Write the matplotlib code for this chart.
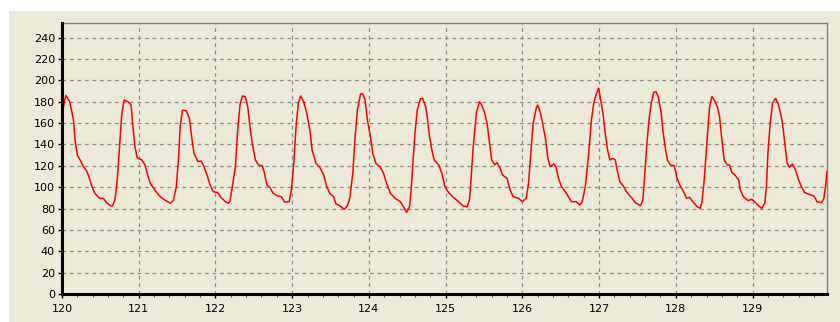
import numpy as np
import matplotlib
matplotlib.use("Agg")
import matplotlib.pyplot as plt
from matplotlib.patches import Rectangle
from matplotlib.ticker import MultipleLocator

# pressure trace, time in s, pressure in mmHg
t = [120.00, 120.05, 120.10, 120.15, 120.17, 120.20, 120.24, 120.28, 120.32, 120.36,
     120.39, 120.43, 120.49, 120.54, 120.58, 120.63, 120.66, 120.69, 120.72, 120.75,
     120.78, 120.81, 120.86, 120.90, 120.92, 120.95, 120.98, 121.04, 121.08, 121.11,
     121.15, 121.21, 121.28, 121.34, 121.41, 121.45, 121.49, 121.52, 121.54, 121.57,
     121.62, 121.66, 121.69, 121.72, 121.77, 121.81, 121.84, 121.89, 121.93, 121.97,
     122.03, 122.07, 122.13, 122.17, 122.19, 122.22, 122.26, 122.29, 122.32, 122.35,
     122.39, 122.42, 122.45, 122.48, 122.52, 122.56, 122.61, 122.64, 122.67, 122.71,
     122.75, 122.81, 122.86, 122.90, 122.96, 122.99, 123.02, 123.05, 123.08, 123.11,
     123.15, 123.19, 123.23, 123.26, 123.31, 123.36, 123.41, 123.45, 123.49, 123.54,
     123.57, 123.62, 123.68, 123.72, 123.75, 123.79, 123.82, 123.85, 123.89, 123.92,
     123.95, 123.98, 124.02, 124.05, 124.09, 124.15, 124.19, 124.23, 124.28, 124.34,
     124.41, 124.45, 124.49, 124.53, 124.55, 124.57, 124.60, 124.63, 124.67, 124.70,
     124.74, 124.76, 124.79, 124.82, 124.85, 124.91, 124.95, 124.99, 125.04, 125.10,
     125.17, 125.23, 125.28, 125.31, 125.33, 125.36, 125.40, 125.44, 125.47, 125.51,
     125.54, 125.57, 125.60, 125.64, 125.67, 125.71, 125.74, 125.80, 125.84, 125.88,
     125.95, 126.00, 126.05, 126.08, 126.11, 126.14, 126.18, 126.20, 126.23, 126.26,
     126.30, 126.33, 126.36, 126.41, 126.44, 126.47, 126.51, 126.56, 126.64, 126.70,
     126.75, 126.78, 126.82, 126.86, 126.90, 126.93, 126.96, 126.99, 127.01, 127.05,
     127.08, 127.11, 127.14, 127.18, 127.21, 127.24, 127.27, 127.32, 127.37, 127.43,
     127.47, 127.54, 127.57, 127.59, 127.62, 127.65, 127.68, 127.71, 127.74, 127.77,
     127.81, 127.83, 127.86, 127.89, 127.93, 127.98, 128.01, 128.05, 128.09, 128.14,
     128.18, 128.22, 128.28, 128.32, 128.34, 128.37, 128.41, 128.44, 128.47, 128.50,
     128.54, 128.57, 128.60, 128.63, 128.67, 128.70, 128.73, 128.77, 128.82, 128.84,
     128.88, 128.94, 128.99, 129.04, 129.08, 129.12, 129.16, 129.18, 129.20, 129.23,
     129.26, 129.30, 129.33, 129.36, 129.39, 129.42, 129.45, 129.48, 129.52, 129.56,
     129.60, 129.64, 129.68, 129.73, 129.80, 129.84, 129.90, 129.93, 129.95, 129.97]
p = [169, 186, 180, 163, 144, 130, 125, 119, 115.5, 108,
     100.5, 94, 89.6, 89.6, 85.5, 82.7, 82.7, 88, 106.7, 138,
     169, 181.6, 180, 177, 160, 138, 127.6, 125.5, 121, 113,
     103.6, 97.4, 91, 88, 85, 87.4, 100.5, 128.5, 156.6, 172,
     171.6, 164.5, 147, 131.7, 124, 124.5, 121, 111.4, 102, 95.8,
     94.9, 90.5, 86.4, 85, 87.4, 100.5, 119, 153.6, 177, 185.4,
     184.8, 175.4, 156.6, 141, 125.5, 121, 119.9, 113, 102, 99.9,
     94.3, 91.8, 91.1, 86.1, 86.4, 97.4, 122, 156.6, 178.6, 185.4,
     180, 169.2, 153.6, 134.8, 122.4, 118.6, 111.4, 100.5, 94.3, 91.1,
     84.3, 82.7, 79.3, 82.7, 89.6, 113, 147.3, 172.3, 187.3, 187.3,
     181.6, 163, 147.3, 131.7, 122.4, 118.6, 113, 103.6, 94.3, 89.6,
     86.4, 81.7, 76.5, 81.7, 97.4, 119.2, 150.5, 172.3, 182.6, 183.2,
     175.4, 166, 147.3, 134.8, 125.5, 120.8, 113, 100.5, 94.9, 90.5,
     86.4, 82.4, 81.7, 88, 106.7, 138, 169.2, 180, 177, 169.2,
     159.8, 142.6, 125.5, 120.8, 123, 117.7, 111.4, 108.3, 97.4, 91.1,
     89.6, 86.4, 89.6, 103.6, 131.7, 159.8, 173.9, 177, 170.7, 161.3,
     145.8, 128.5, 119.2, 121.7, 118.6, 108.3, 100.5, 95.8, 86.4, 86.4,
     83.3, 86.4, 100.5, 128.5, 163, 178.6, 186.3, 192.6, 186.3, 169.2,
     150.5, 134.8, 125.5, 127, 125.5, 114.5, 105.1, 100.5, 94.3, 89.6,
     85.5, 82.7, 88, 106.7, 138, 163, 178.6, 188.6, 189.5, 184.8,
     169.2, 153.6, 138, 125.5, 120.8, 120.1, 109.9, 102, 97.4, 89.6,
     90.5, 86.4, 81.7, 80.2, 86.4, 106.7, 147.3, 175.4, 184.8, 181.6,
     175.4, 166, 144.2, 125.5, 120.8, 120.8, 113.6, 111.4, 106.7, 97.4,
     91.1, 87.4, 88.7, 85.5, 82.4, 80.2, 85, 100.5, 131.7, 159.8,
     178.6, 183.2, 178.6, 170.7, 159.8, 141, 122.4, 118.6, 121.7, 116.1,
     106.7, 99.9, 94.9, 93.4, 91.8, 86.4, 85.5, 89.6, 100.5, 114.5]

x_ticks = np.arange(120, 130)
y_ticks = np.arange(0, 241, 20)

bg = "#ECE9D8"
fig = plt.figure(figsize=(8.4, 3.22), dpi=100, facecolor="white")
# beige panel behind everything, white strip on the top and left
fig.patches.append(Rectangle((9 / 840, 0), 1, 1 - 11 / 322, transform=fig.transFigure,
                             facecolor=bg, edgecolor="none", zorder=-10))

ax = fig.add_axes([62 / 840, 28 / 322, 765 / 840, 271 / 322])
ax.set_facecolor(bg)

ax.plot(t, p, color="#FF0000", lw=1.1, zorder=3)

ax.set_xlim(120, 129.97)
ax.set_ylim(0, 253.7)
ax.set_xticks(x_ticks)
ax.set_yticks(y_ticks)
ax.xaxis.set_minor_locator(MultipleLocator(0.2))

ax.grid(True, which="major", color="#8C8C8C", linestyle=(0, (3, 3)), lw=0.9)
ax.tick_params(axis="both", which="major", direction="out", length=3, width=1,
               labelsize=8, colors="black", pad=2)
ax.tick_params(axis="x", which="minor", direction="out", length=2, width=0.8,
               color="#555555")
ax.tick_params(axis="x", which="major", pad=4)

for side in ("left", "bottom"):
    ax.spines[side].set_color("black")
    ax.spines[side].set_linewidth(2.2)
    ax.spines[side].set_zorder(4)
for side in ("top", "right"):
    ax.spines[side].set_color("#808080")
    ax.spines[side].set_linestyle((0, (1, 1)))
    ax.spines[side].set_linewidth(1)

fig.savefig("out.png", dpi=100, facecolor="white")
